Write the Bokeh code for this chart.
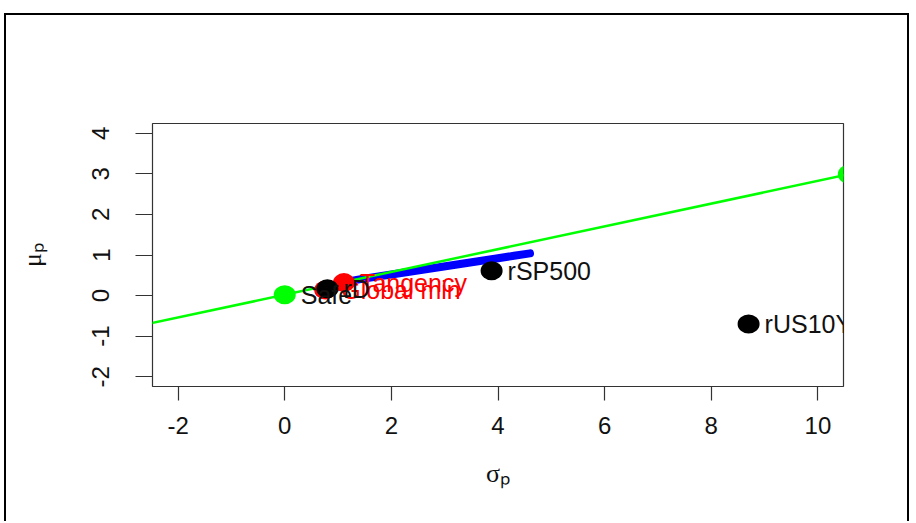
from bokeh.plotting import figure
from bokeh.models import Range1d, FixedTicker
from bokeh.core.properties import value
from bokeh.embed import file_html
from bokeh.resources import INLINE

# ---- data ----
asset_names = ["rD", "rSP500", "rUS10Y"]
asset_sd = [0.80, 3.88, 8.70]
asset_mu = [0.17, 0.61, -0.70]

frontier_sd = [1.20, 1.40, 1.70, 2.00, 2.40, 2.80, 3.20, 3.60, 4.00, 4.30, 4.60]
frontier_mu = [0.35, 0.40, 0.46, 0.52, 0.60, 0.68, 0.76, 0.84, 0.92, 0.98, 1.04]

gmv_label = ["Global min"]
gmv_sd = [0.76]
gmv_mu = [0.14]

tan_label = ["Tangency"]
tan_sd = [1.11]
tan_mu = [0.32]

safe_label = ["Safe"]
safe_sd = [0.00]
safe_mu = [0.02]

cml_sd = [-2.50, 10.58]
cml_mu = [-0.68, 2.99]
cml_end_sd = [10.58]
cml_end_mu = [2.99]

x_ticks = [-2, 0, 2, 4, 6, 8, 10]
x_tick_labels = ["-2", "0", "2", "4", "6", "8", "10"]
y_ticks = [-2, -1, 0, 1, 2, 3, 4]
y_tick_labels = ["-2", "-1", "0", "1", "2", "3", "4"]

FONT = "Liberation Sans"
W, H = 905, 508

p = figure(width=W, height=H, output_backend="svg", toolbar_location=None,
           x_range=Range1d(-2.48, 10.48), y_range=Range1d(-2.24, 4.24),
           min_border_left=146, min_border_right=68, min_border_top=108,
           min_border_bottom=137)
# outer frame of the picture: top, left and right sides are visible
p.styles = {"border-top": "2px solid black", "border-left": "2px solid black",
            "border-right": "2px solid black", "margin-top": "13px",
            "margin-left": "4px"}

p.xgrid.visible = False
p.ygrid.visible = False
p.outline_line_color = "#333333"
p.outline_line_width = 1.2
p.background_fill_color = "white"
p.border_fill_color = "white"

for ax in (p.xaxis[0], p.yaxis[0]):
    ax.axis_line_color = None
    ax.major_tick_line_color = "#333333"
    ax.major_tick_line_width = 1.2
    ax.major_tick_in = 0
    ax.minor_tick_line_color = None
    ax.major_label_text_font = FONT
    ax.major_label_text_font_size = "24px"
    ax.major_label_text_color = "#111111"
    ax.axis_label_text_font = "Liberation Serif"
    ax.axis_label_text_font_style = "normal"
    ax.axis_label_text_font_size = "26px"
    ax.axis_label_text_color = "#111111"

p.xaxis.ticker = FixedTicker(ticks=x_ticks)
p.yaxis.ticker = FixedTicker(ticks=y_ticks)
p.xaxis.major_label_overrides = dict(zip(x_ticks, x_tick_labels))
p.yaxis.major_label_overrides = dict(zip(y_ticks, y_tick_labels))
p.xaxis.major_tick_out = 14
p.yaxis.major_tick_out = 17
p.xaxis.major_label_standoff = 16
p.yaxis.major_label_standoff = 26
p.yaxis.major_label_orientation = "vertical"
p.xaxis.axis_label = "σₚ"
p.yaxis.axis_label = "μₚ"
p.xaxis.axis_label_standoff = 22
p.yaxis.axis_label_standoff = 43

# frontier
p.line(frontier_sd, frontier_mu, line_color="#0000FF", line_width=8, line_cap="round",
       line_join="round")

# capital market line
p.line(cml_sd, cml_mu, line_color="#00FF00", line_width=2.5)
p.ellipse(cml_end_sd, cml_end_mu, width=22, height=19, width_units="screen",
          height_units="screen", fill_color="#00FF00", line_color=None)

# red points
p.ellipse(gmv_sd, gmv_mu, width=22, height=19, width_units="screen",
          height_units="screen", fill_color="#FF0000", line_color=None)
p.ellipse(tan_sd, tan_mu, width=22, height=19, width_units="screen",
          height_units="screen", fill_color="#FF0000", line_color=None)

# assets
p.ellipse(asset_sd, asset_mu, width=22, height=19, width_units="screen",
          height_units="screen", fill_color="black", line_color=None)

# safe
p.ellipse(safe_sd, safe_mu, width=22, height=19, width_units="screen",
          height_units="screen", fill_color="#00FF00", line_color=None)

# labels
LABEL_SIZE = "25px"
p.text(gmv_sd, gmv_mu, text=gmv_label, x_offset=16, text_align="left",
       text_baseline="middle", text_font=value(FONT), text_font_size=LABEL_SIZE,
       text_color="#FF0000")
p.text(tan_sd, tan_mu, text=tan_label, x_offset=16, text_align="left",
       text_baseline="middle", text_font=value(FONT), text_font_size=LABEL_SIZE,
       text_color="#FF0000")
p.text(safe_sd, safe_mu, text=safe_label, x_offset=16, text_align="left",
       text_baseline="middle", text_font=value(FONT), text_font_size=LABEL_SIZE,
       text_color="#111111")
p.text(asset_sd, asset_mu, text=asset_names, x_offset=16, text_align="left",
       text_baseline="middle", text_font=value(FONT), text_font_size=LABEL_SIZE,
       text_color="#111111")

open("out.html", "w").write(file_html(p, INLINE))
